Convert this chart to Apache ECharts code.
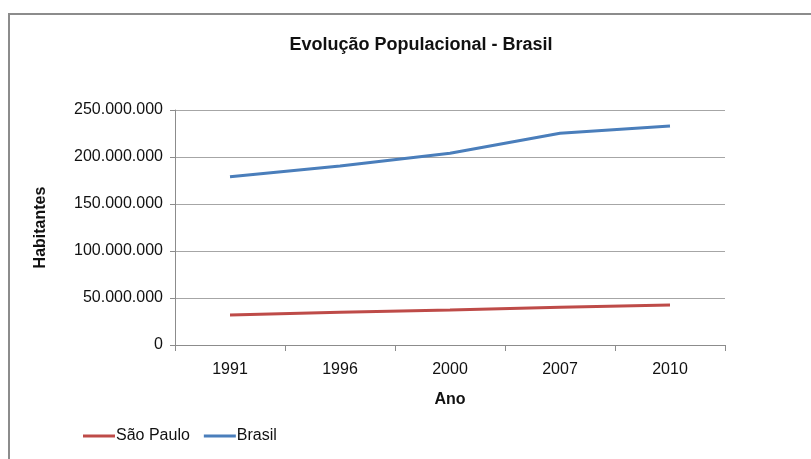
<!DOCTYPE html>
<html>
<head>
<meta charset="utf-8">
<script src="https://cdn.jsdelivr.net/npm/echarts@6/dist/echarts.min.js"></script>
<style>
  html, body { margin: 0; padding: 0; background: #fff; }
  #chart { width: 811px; height: 459px; }
</style>
</head>
<body>
<div id="chart"></div>
<script>
// Population series (inhabitants) per census year
const anos = ['1991', '1996', '2000', '2007', '2010'];
const saoPaulo = [31900000, 34800000, 37200000, 40100000, 42500000];
const brasil = [179000000, 190400000, 203900000, 225200000, 233000000];

const FONT = '"Liberation Sans", Arial, sans-serif';

// 250000000 -> "250.000.000"
function milhar(v) {
  return String(Math.round(v)).replace(/\B(?=(\d{3})+(?!\d))/g, '.');
}

const chart = echarts.init(document.getElementById('chart'));
chart.setOption({
  animation: false,
  backgroundColor: '#fff',
  textStyle: { fontFamily: FONT },
  title: {
    text: 'Evolução Populacional - Brasil',
    left: 416,
    textAlign: 'center',
    top: 31,
    textStyle: { fontFamily: FONT, fontSize: 18, fontWeight: 'bold', color: '#111' }
  },
  graphic: [{
    type: 'polyline',
    shape: { points: [[9, 459], [9, 14], [811, 14]] },
    style: { stroke: '#8c8c8c', lineWidth: 2, fill: null },
    silent: true
  }],
  legend: {
    left: 78,
    top: 423,
    icon: 'rect',
    itemWidth: 32,
    itemHeight: 3,
    itemGap: 14,
    textStyle: { fontFamily: FONT, fontSize: 16, color: '#111', padding: [0, 0, 0, -4] },
    data: ['São Paulo', 'Brasil']
  },
  grid: { left: 175, right: 86, top: 110, bottom: 114, containLabel: false },
  xAxis: {
    type: 'category',
    data: anos,
    boundaryGap: true,
    name: 'Ano',
    nameLocation: 'middle',
    nameGap: 47,
    nameTextStyle: { fontFamily: FONT, fontSize: 16, fontWeight: 'bold', color: '#111' },
    axisLine: { lineStyle: { color: '#8c8c8c', width: 1 } },
    axisTick: { show: true, length: 6, lineStyle: { color: '#8c8c8c' } },
    axisLabel: { fontFamily: FONT, fontSize: 16, color: '#111', margin: 17 }
  },
  yAxis: {
    type: 'value',
    min: 0,
    max: 250000000,
    interval: 50000000,
    name: 'Habitantes',
    nameLocation: 'middle',
    nameGap: 126,
    nameRotate: 90,
    nameTextStyle: { fontFamily: FONT, fontSize: 16, fontWeight: 'bold', color: '#111' },
    axisLine: { show: true, lineStyle: { color: '#8c8c8c', width: 1 } },
    axisTick: { show: true, length: 5, lineStyle: { color: '#8c8c8c' } },
    axisLabel: { fontFamily: FONT, fontSize: 16, color: '#111', margin: 12, formatter: milhar },
    splitLine: { show: true, lineStyle: { color: '#a6a6a6', width: 1 } }
  },
  series: [
    {
      name: 'São Paulo',
      type: 'line',
      data: saoPaulo,
      symbol: 'none',
      lineStyle: { color: '#be4b48', width: 3 },
      itemStyle: { color: '#be4b48' }
    },
    {
      name: 'Brasil',
      type: 'line',
      data: brasil,
      symbol: 'none',
      lineStyle: { color: '#4a7ebb', width: 3 },
      itemStyle: { color: '#4a7ebb' }
    }
  ]
});
</script>
</body>
</html>
